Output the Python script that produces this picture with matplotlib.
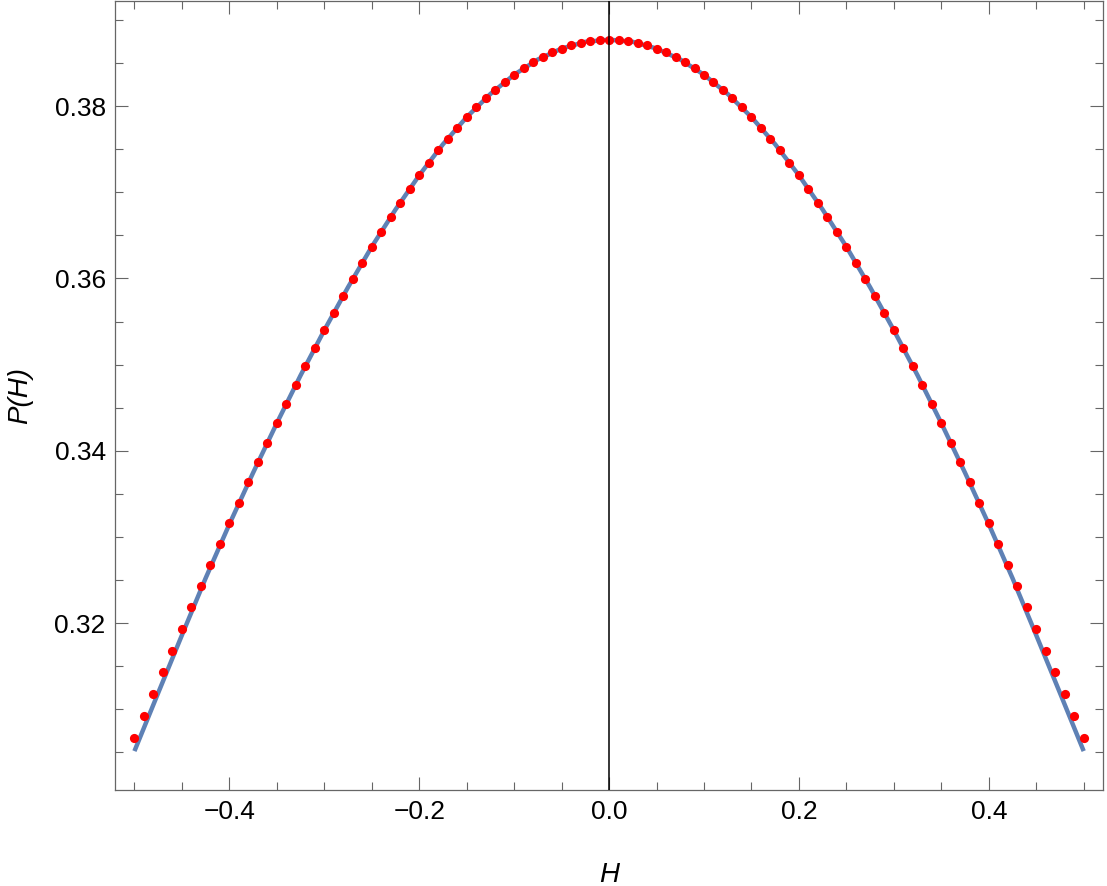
import numpy as np
import matplotlib
matplotlib.use("Agg")
import matplotlib.pyplot as plt
from matplotlib.ticker import FixedLocator, MultipleLocator

# data
h_dots = [round(-0.5 + 0.01 * i, 2) for i in range(101)]
p_dots = [
    0.30666, 0.30918, 0.31172, 0.31428, 0.31680, 0.31930, 0.32182, 0.32430, 0.32674, 0.32916,
    0.33158, 0.33397, 0.33633, 0.33866, 0.34095, 0.34321, 0.34546, 0.34767, 0.34982, 0.35193,
    0.35399, 0.35602, 0.35802, 0.35992, 0.36180, 0.36368, 0.36542, 0.36717, 0.36879, 0.37042,
    0.37197, 0.37345, 0.37492, 0.37620, 0.37748, 0.37872, 0.37986, 0.38091, 0.38190, 0.38281,
    0.38364, 0.38440, 0.38509, 0.38571, 0.38626, 0.38668, 0.38707, 0.38734, 0.38755, 0.38767,
    0.38771,
    0.38767, 0.38755, 0.38734, 0.38707, 0.38668, 0.38626, 0.38571, 0.38509, 0.38440, 0.38364,
    0.38281, 0.38190, 0.38091, 0.37986, 0.37872, 0.37748, 0.37620, 0.37492, 0.37345, 0.37197,
    0.37042, 0.36879, 0.36717, 0.36542, 0.36368, 0.36180, 0.35992, 0.35802, 0.35602, 0.35399,
    0.35193, 0.34982, 0.34767, 0.34546, 0.34321, 0.34095, 0.33866, 0.33633, 0.33397, 0.33158,
    0.32916, 0.32674, 0.32430, 0.32182, 0.31930, 0.31680, 0.31428, 0.31172, 0.30918, 0.30666,
]

h_line = [round(-0.5 + 0.025 * i, 3) for i in range(41)]
p_line = [
    0.30515, 0.31190, 0.31860, 0.32522, 0.33148, 0.33745, 0.34321, 0.34875, 0.35399, 0.35898,
    0.36368, 0.36799, 0.37197, 0.37557, 0.37872, 0.38141, 0.38364, 0.38541, 0.38668, 0.38746,
    0.38771,
    0.38746, 0.38668, 0.38541, 0.38364, 0.38141, 0.37872, 0.37557, 0.37197, 0.36799, 0.36368,
    0.35898, 0.35399, 0.34875, 0.34321, 0.33745, 0.33148, 0.32522, 0.31860, 0.31190, 0.30515,
]

x_ticks = [-0.4, -0.2, 0.0, 0.2, 0.4]
x_labels = ["\u22120.4", "\u22120.2", "0.0", "0.2", "0.4"]
y_ticks = [0.32, 0.34, 0.36, 0.38]
y_labels = ["0.32", "0.34", "0.36", "0.38"]

plt.rcParams["font.family"] = ["Liberation Sans", "DejaVu Sans"]

fig = plt.figure(figsize=(11.07, 8.86), dpi=100)
ax = fig.add_axes([0.1043, 0.108, 0.8918, 0.8909])

ax.plot(h_line, p_line, color="#5E81B5", lw=3.2, solid_capstyle="butt", zorder=2)
ax.plot(h_dots, p_dots, "o", color="red", ms=6.6, mec="none", zorder=3)
ax.axvline(0, color="black", lw=1.1, zorder=4)

ax.set_xlim(-0.52, 0.52)
ax.set_ylim(0.3006, 0.3922)

ax.xaxis.set_major_locator(FixedLocator(x_ticks))
ax.set_xticklabels(x_labels)
ax.xaxis.set_minor_locator(MultipleLocator(0.05))
ax.yaxis.set_major_locator(FixedLocator(y_ticks))
ax.set_yticklabels(y_labels)
ax.yaxis.set_minor_locator(MultipleLocator(0.005))

gray = "#666666"
for s in ax.spines.values():
    s.set_color(gray)
    s.set_linewidth(0.9)
ax.tick_params(which="both", direction="in", top=True, right=True, color=gray,
               width=0.8, labelsize=19, pad=7, labelcolor="black")
ax.tick_params(which="major", length=9.5)
ax.tick_params(which="minor", length=5.8)

ax.set_xlabel("H", fontsize=20, style="italic")
ax.set_ylabel("P(H)", fontsize=20, style="italic")
ax.xaxis.label.set_va("center")
ax.yaxis.label.set_va("center")
ax.xaxis.set_label_coords(0.5, -0.107)
ax.yaxis.set_label_coords(-0.097, 0.5)

fig.savefig("out.png", dpi=100)
